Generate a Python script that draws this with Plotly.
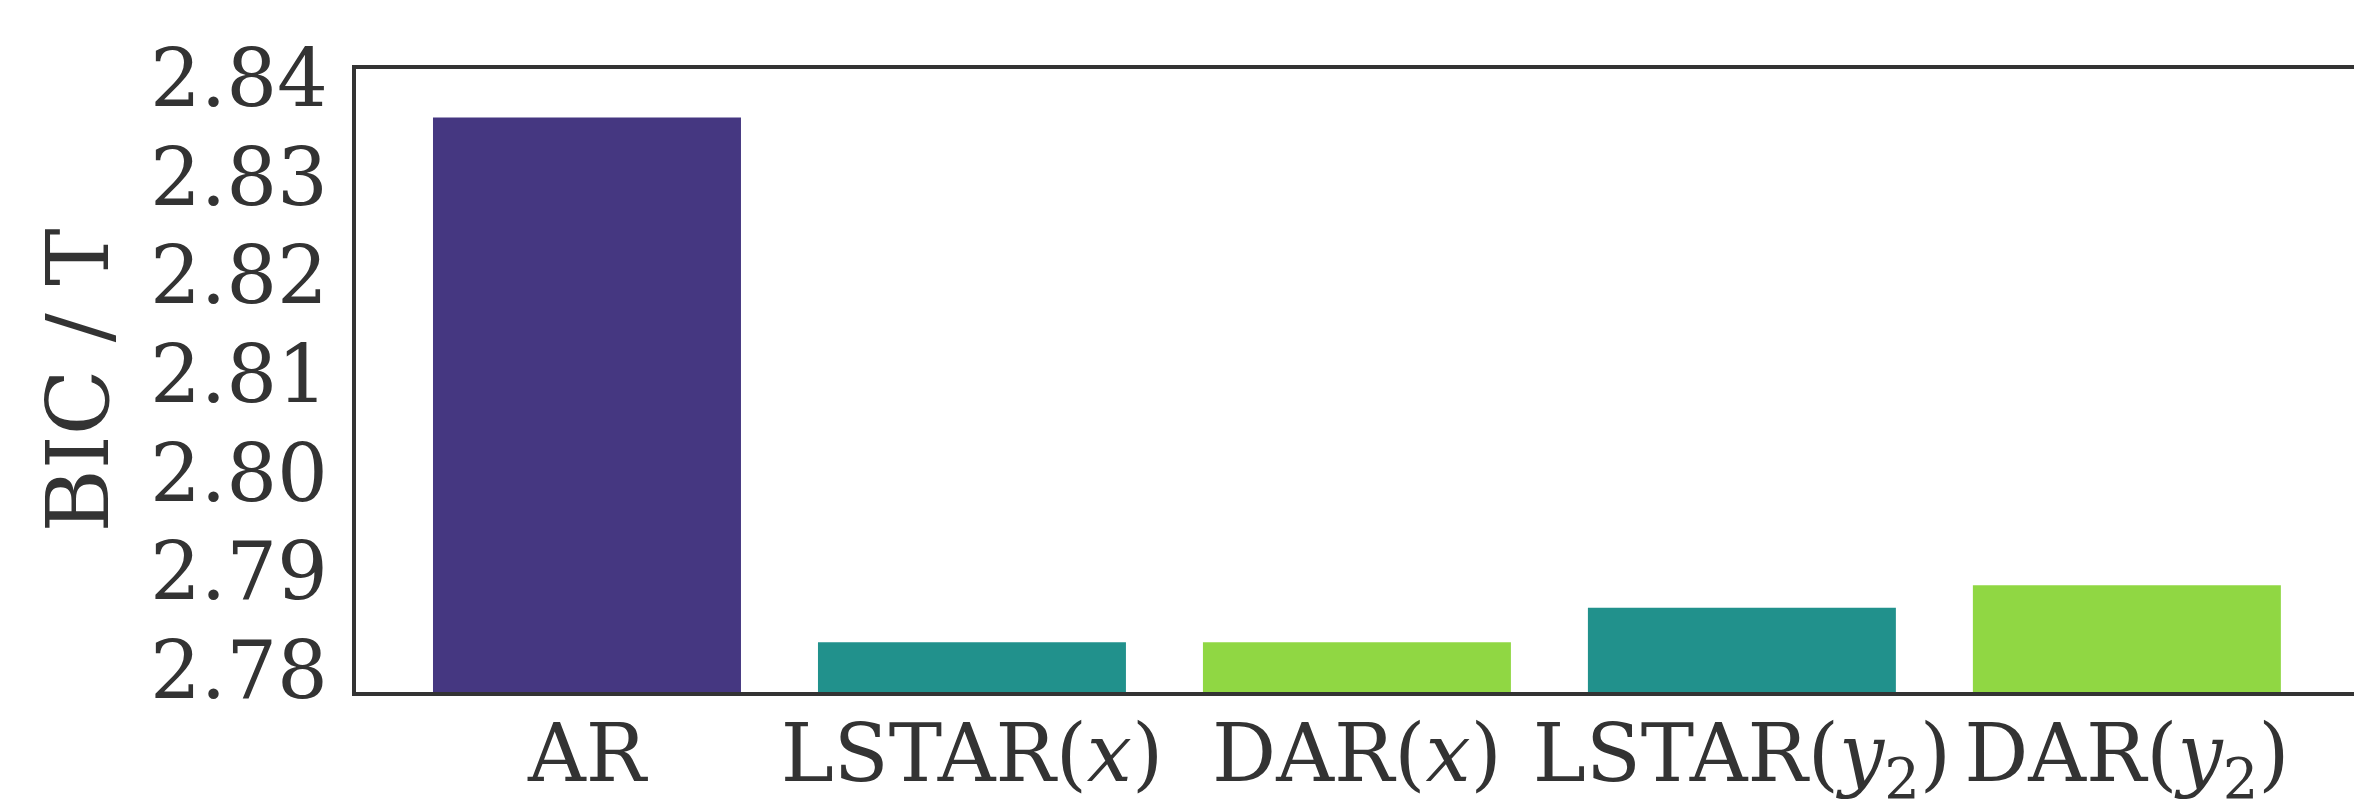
import plotly.graph_objects as go

categories = ["AR", "LSTAR(<i>x</i>)", "DAR(<i>x</i>)", "LSTAR(<i>y</i><sub>2</sub>)", "DAR(<i>y</i><sub>2</sub>)"]
bic_values = [2.8360, 2.7828, 2.7828, 2.7863, 2.7886]
bar_colors = ["#453781", "#21918c", "#90d743", "#21918c", "#90d743"]
y_ticks = [2.78, 2.79, 2.80, 2.81, 2.82, 2.83, 2.84]
y_ticktext = ["2.78", "2.79", "2.80", "2.81", "2.82", "2.83", "2.84"]

x_pos = list(range(len(categories)))

fig = go.Figure()
fig.add_trace(go.Bar(
    x=x_pos, y=bic_values, width=0.8,
    marker=dict(color=bar_colors, line=dict(width=0)),
    showlegend=False,
))

font_family = "DejaVu Serif"
fig.update_layout(
    width=2354, height=800,
    margin=dict(l=356, r=0, t=69, b=108),
    paper_bgcolor="white", plot_bgcolor="white",
    font=dict(family=font_family, color="#333333", size=80),
)
fig.update_xaxes(
    range=[-0.6, 4.59],
    tickvals=x_pos, ticktext=categories,
    tickfont=dict(size=80, family=font_family, color="#333333"),
    showgrid=False, zeroline=False,
    showline=True, linecolor="#333333", linewidth=4, mirror=True,
    ticks="", ticklabelstandoff=-11, automargin=False,
)
fig.update_yaxes(
    range=[2.77777, 2.84091],
    tickvals=y_ticks, ticktext=y_ticktext,
    tickfont=dict(size=80, family=font_family, color="#333333"),
    showgrid=False, zeroline=False,
    showline=True, linecolor="#333333", linewidth=4, mirror=False,
    ticks="", ticklabelstandoff=8, automargin=False,
    title=dict(text="BIC / T", font=dict(size=86, family=font_family, color="#333333"), standoff=14),
)

fig.write_html("out.html")
